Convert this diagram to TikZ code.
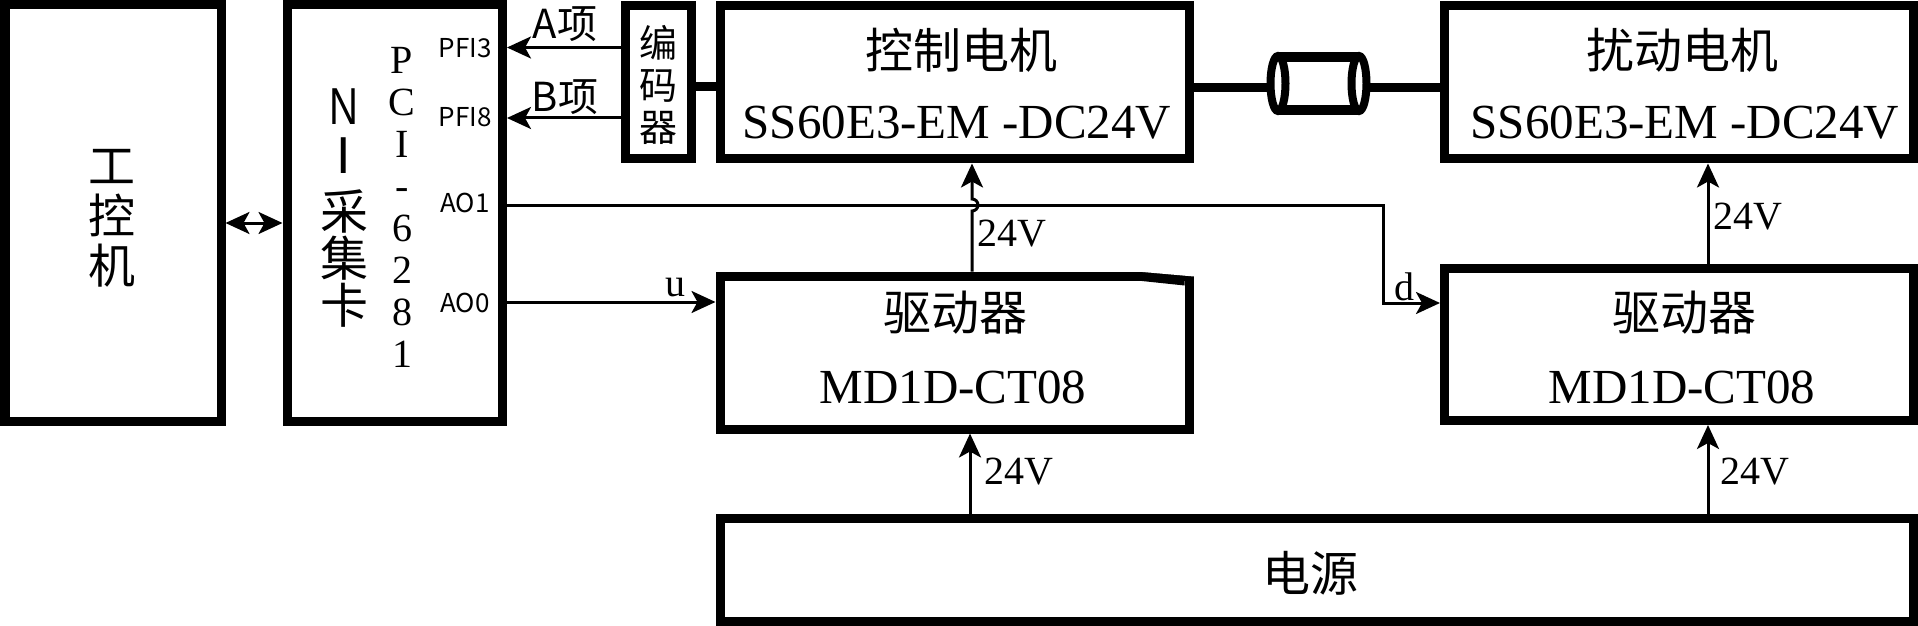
\documentclass[tikz,border=0pt]{standalone}
\usepackage{fontspec}
\usepackage{graphicx}
\setmainfont{Liberation Serif}
\newfontfamily\cjk{Noto Sans CJK SC}
\newfontfamily\lsans{Liberation Sans}
\usetikzlibrary{arrows.meta,calc}
\newcommand\cjkT{\cjk\fontsize{24pt}{28pt}\selectfont}
\newcommand\serT{\fontsize{24.5pt}{28pt}\selectfont}
\newcommand\serS{\fontsize{20pt}{24pt}\selectfont}
\newcommand\pinF{\cjk\fontsize{13pt}{15pt}\selectfont}
\newcommand\phF{\cjk\fontsize{20pt}{24pt}\selectfont}
\tikzset{
  blk/.style={draw, line width=4.5pt, inner sep=0pt},
  lbl/.style={inner sep=0pt},
  wire/.style={line width=1.5pt},
  arr/.style={wire, -{Stealth[length=12pt,width=11pt,inset=3pt]}},
  darr/.style={wire, {Stealth[length=12pt,width=11pt,inset=3pt]}-{Stealth[length=12pt,width=11pt,inset=3pt]}},
  shaft/.style={line width=4.5pt},
}
\begin{document}
\begin{tikzpicture}[x=0.5pt,y=-0.5pt]
\useasboundingbox (0,0) rectangle (1918,626);
% boxes
\node[blk, minimum width=108pt, minimum height=208pt] (ipc) at (113,213) {};
\node[blk, minimum width=107.75pt, minimum height=208pt] (ni) at (394.75,213) {};
\node[blk, minimum width=32.75pt, minimum height=76.5pt] (enc) at (658.25,82.5) {};
\node[blk, minimum width=234.5pt, minimum height=76.5pt] (ctrl) at (954.5,82.5) {};
\node[blk, minimum width=234.5pt, minimum height=76.5pt] (dist) at (1678.5,82.5) {};
\node[blk, minimum width=234.5pt, minimum height=76.5pt] (drvL) at (954.5,352.5) {};
\node[blk, minimum width=234.25pt, minimum height=76.25pt] (drvR) at (1678.75,344.25) {};
\node[blk, minimum width=596.5pt, minimum height=51.5pt] (psu) at (1316.5,569.5) {};
% slanted corner of the left driver box
\fill[white] (1137,271.5) -- (1194,271.5) -- (1194,276.5) -- cycle;
\fill (1137,280.5) -- (1184.5,280.5) -- (1184.5,285.5) -- cycle;
% helper coordinates
\coordinate (yA) at (0,47.5);
\coordinate (yB) at (0,118);
\coordinate (yD) at (0,223);
\coordinate (yO1) at (0,205);
\coordinate (yO0) at (0,302);
\coordinate (yd) at (0,303);
\coordinate (xL) at (1383.5,0);
\coordinate (ysh) at (0,87);
\coordinate (cplL) at (1267,87.5);
\coordinate (cplR) at (1370,87.5);
\coordinate (hopB) at (972,211);
\coordinate (xv1) at (970,0);
\coordinate (xv2) at (1708,0);
% shafts
\draw[shaft] (enc.east |- ysh) -- (ctrl.west |- ysh);
\draw[shaft] (ctrl.east |- cplL) -- (cplL);
\draw[shaft] (cplR) -- (dist.west |- cplR);
% coupling
\draw[line width=5pt] (1278,57) -- (1359,57) (1278,110) -- (1359,110);
\draw[line width=4pt, fill=white] (1278,83.5) ellipse [x radius=7.5, y radius=27.5];
\draw[line width=4pt, fill=white] (1359,83.5) ellipse [x radius=7.5, y radius=27.5];
% connectors
\draw[arr] (enc.west |- yA) -- (ni.east |- yA);
\draw[arr] (enc.west |- yB) -- (ni.east |- yB);
\draw[darr] (ipc.east |- yD) -- (ni.west |- yD);
\draw[arr] (ni.east |- yO0) -- (drvL.west |- yO0);
\draw[arr] (ni.east |- yO1) -- (xL |- yO1) -- (xL |- yd) -- (drvR.west |- yd);
\draw[arr] (drvL.north -| hopB) -- (hopB) arc[start angle=-90,end angle=90,radius=3pt] -- (ctrl.south -| hopB);
\draw[arr] (psu.north -| xv1) -- (drvL.south -| xv1);
\draw[arr] (psu.north -| xv2) -- (drvR.south -| xv2);
\draw[arr] (drvR.north -| xv2) -- (dist.south -| xv2);
% texts
\node[lbl, font=\cjkT] (tCtrl) at (961,50) {控制电机};
\node[lbl, font=\serT] (mCtrl) at (957,123) {SS60E3-EM -DC24V};
\node[lbl, font=\cjkT] (tDist) at (1682,50) {扰动电机};
\node[lbl, font=\serT] (mDist) at (1685,123) {SS60E3-EM -DC24V};
\node[lbl, font=\cjkT] (tDrvL) at (955,313) {驱动器};
\node[lbl, font=\serT] (mDrvL) at (953,387) {MD1D-CT08};
\node[lbl, font=\cjkT] (tDrvR) at (1684,313) {驱动器};
\node[lbl, font=\serT] (mDrvR) at (1682,387) {MD1D-CT08};
\node[lbl, font=\cjkT] (tPsu) at (1310,573) {电源};
\node[lbl, align=center, font=\cjk\fontsize{23.5pt}{25pt}\selectfont] (tIpc) at (112,218) {工\\控\\机};
\node[lbl, align=center, font=\cjk\fontsize{19pt}{21pt}\selectfont] (tEnc) at (658,85) {编\\码\\器};
\node[lbl, font=\lsans\fontsize{26pt}{28pt}\selectfont] (tN) at (344,106.5) {\scalebox{0.77}[1]{N}};
\node[lbl, font=\lsans\fontsize{26pt}{28pt}\selectfont] (tI) at (344,156) {I};
\node[lbl, align=center, font=\cjk\fontsize{24pt}{23.5pt}\selectfont] (tCard) at (344,259) {采\\集\\卡};
\node[lbl, align=center, font=\serS\setlength{\baselineskip}{21pt}] (tPci) at (402,207) {P\\C\\I\\-\\6\\2\\8\\1};
\node[lbl, font=\pinF] (pPFI3) at (465,48) {PFI3};
\node[lbl, font=\pinF] (pPFI8) at (465,117) {PFI8};
\node[lbl, font=\pinF] (pAO1) at (465,203) {AO1};
\node[lbl, font=\pinF] (pAO0) at (465,303) {AO0};
\node[lbl, font=\phF] (lA) at (565,24) {A项};
\node[lbl, font=\phF] (lB) at (565,97) {B项};
\node[lbl, font=\serS] (lu) at (675,288) {u};
\node[lbl, font=\serS] (ld) at (1404,287) {d};
\node[lbl, font=\serS] (v1) at (1012,234) {24V};
\node[lbl, font=\serS] (v2) at (1748,217) {24V};
\node[lbl, font=\serS] (v3) at (1019,472) {24V};
\node[lbl, font=\serS] (v4) at (1755,472) {24V};
\end{tikzpicture}
\end{document}
